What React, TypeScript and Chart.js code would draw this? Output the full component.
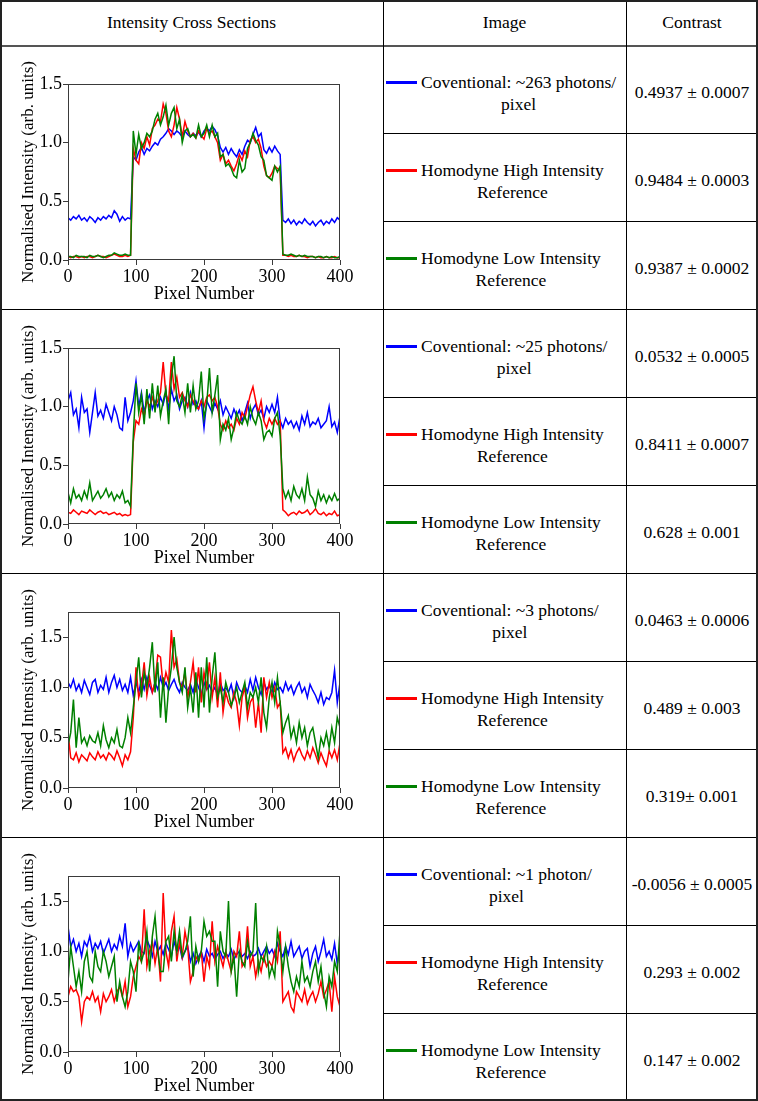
import React, { useEffect, useRef } from "react";
import { Chart, registerables } from "chart.js";

Chart.register(...registerables);

const SERIF = '"Liberation Serif", "Times New Roman", Times, serif';
Chart.defaults.font.family = SERIF;

// ---------- data ----------
const pixelNumbers = [0,4,8,12,16,20,24,28,32,36,40,44,48,52,56,60,64,68,72,76,80,84,88,92,96,100,104,108,112,116,120,124,128,132,136,140,144,148,152,156,160,164,168,172,176,180,184,188,192,196,200,204,208,212,216,220,224,228,232,236,240,244,248,252,256,260,264,268,272,276,280,284,288,292,296,300,304,308,312,316,320,324,328,332,336,340,344,348,352,356,360,364,368,372,376,380,384,388,392,396,400];

const xTickValues = [0, 100, 200, 300, 400];
const yTickValues = [0, 0.5, 1.0, 1.5];
const yMaxValues = [1.5, 1.5, 1.75, 1.75];

const headerLabels = ["Intensity Cross Sections", "Image", "Contrast"];
const xAxisTitle = "Pixel Number";
const yAxisTitle = "Normalised Intensity (arb. units)";

// Row 1: ~263 photons/pixel
const conv263 = [
0.36,0.34,0.37,0.35,0.38,0.34,0.36,0.33,0.37,0.35,0.32,0.36,0.34,0.37,0.35,0.38,0.36,0.42,0.39,0.33,0.37,0.34,0.36,0.35,
0.88,
0.85,0.92,0.96,0.9,0.95,0.93,0.97,1.0,0.98,1.03,
1.05,1.08,1.12,1.1,1.07,1.1,1.08,1.05,1.1,1.07,
1.05,1.08,1.06,1.09,1.05,1.1,1.12,1.1,1.14,1.11,
1.06,0.96,0.92,0.96,0.9,0.95,0.91,0.88,0.94,0.9,
0.97,1.02,1.0,1.07,1.13,1.05,1.08,0.94,0.91,0.96,
0.92,0.97,0.93,0.9,
0.34,0.32,0.35,0.31,0.34,0.3,0.33,0.31,0.35,0.32,0.3,0.33,0.29,0.32,0.34,0.3,0.33,0.31,0.35,0.32,0.36,0.34];
const high263 = [
0.03,0.02,0.03,0.03,0.02,0.03,0.02,0.03,0.03,0.02,0.03,0.04,0.03,0.03,0.02,0.03,0.04,0.05,0.04,0.03,0.03,0.04,0.03,0.04,
0.95,
0.85,0.82,1.0,0.95,1.05,0.98,1.12,1.15,1.2,1.18,
1.33,1.25,1.1,1.05,1.15,1.3,1.2,1.05,1.18,1.1,
1.05,1.08,1.04,1.1,1.06,1.03,1.12,1.08,1.1,1.05,
1.0,0.85,0.9,0.82,0.85,0.8,0.76,0.82,0.9,0.85,
0.93,0.88,1.02,1.05,1.0,1.03,0.95,0.8,0.72,0.7,
0.74,0.8,0.78,0.76,
0.04,0.04,0.03,0.04,0.03,0.03,0.04,0.03,0.03,0.02,0.03,0.03,0.02,0.03,0.02,0.02,0.03,0.02,0.02,0.03,0.02,0.02];
const low263 = [
0.03,0.03,0.02,0.04,0.03,0.03,0.03,0.02,0.04,0.03,0.03,0.04,0.03,0.02,0.03,0.04,0.04,0.06,0.05,0.04,0.04,0.05,0.04,0.04,
1.1,
0.9,1.07,0.95,1.0,1.08,1.05,1.1,1.2,1.25,1.15,
1.22,1.32,1.15,1.25,1.3,1.12,1.2,1.0,1.1,1.12,
1.05,1.07,1.04,1.15,1.05,1.08,1.15,1.05,1.15,1.05,
1.08,0.88,0.9,0.8,0.82,0.78,0.72,0.7,0.85,0.75,
0.78,0.95,1.0,1.08,1.02,0.98,0.88,0.85,0.72,0.7,
0.68,0.8,0.75,0.8,
0.05,0.04,0.04,0.05,0.04,0.03,0.04,0.03,0.04,0.03,0.03,0.03,0.02,0.03,0.03,0.02,0.03,0.02,0.03,0.02,0.02,0.03];

// Row 2: ~25 photons/pixel
const conv25 = [
1.05,1.12,0.93,0.98,0.82,1.08,0.95,0.98,0.78,0.95,1.12,0.92,0.97,0.9,1.02,0.95,0.88,1.0,0.93,0.82,0.8,1.08,0.88,0.95,1.05,
1.22,
1.0,1.12,0.95,1.05,1.1,0.98,1.05,1.0,1.08,
1.02,1.12,0.98,1.15,1.05,1.1,0.98,1.05,1.08,1.0,
1.12,1.02,1.05,0.98,1.05,0.82,1.05,1.0,0.95,1.03,
0.98,1.05,0.93,1.0,0.95,0.9,0.98,0.92,0.97,0.88,
0.95,1.03,0.9,0.98,1.02,0.93,0.97,0.9,1.0,0.95,
1.02,0.95,1.08,0.88,0.82,
0.9,0.85,0.88,0.82,0.87,0.8,0.92,0.85,0.95,0.83,0.87,0.85,0.9,0.82,0.85,0.88,1.0,0.83,0.87,0.78,0.92];
const high25 = [
0.1,0.09,0.12,0.1,0.08,0.11,0.1,0.09,0.12,0.1,0.08,0.1,0.11,0.09,0.1,0.08,0.09,0.1,0.08,0.09,0.07,0.08,0.07,0.08,
0.7,
0.88,
0.85,0.98,0.92,1.05,1.0,1.08,1.0,1.05,1.12,
1.38,1.1,1.05,1.38,1.15,1.25,1.08,1.12,1.05,1.0,
1.1,1.05,1.0,0.98,1.05,1.0,1.08,1.1,1.05,1.08,
1.0,0.85,0.8,0.88,0.82,0.85,0.8,0.9,0.85,0.95,
0.9,1.0,1.1,1.17,1.05,0.95,1.05,0.88,0.82,0.9,
0.85,0.9,0.85,0.88,0.12,
0.1,0.07,0.09,0.1,0.08,0.11,0.09,0.1,0.12,0.08,0.1,0.13,0.09,0.08,0.1,0.07,0.09,0.08,0.11,0.07,0.08];
const low25 = [
0.27,0.18,0.3,0.22,0.25,0.2,0.28,0.22,0.35,0.2,0.24,0.28,0.22,0.25,0.3,0.23,0.27,0.2,0.25,0.22,0.28,0.18,0.2,0.15,
0.75,
1.2,
0.95,1.1,0.85,1.15,0.9,1.2,0.95,1.18,0.92,
1.05,1.15,0.85,1.25,1.43,1.05,1.0,1.1,0.95,1.2,
0.95,1.18,0.98,1.05,1.3,0.9,1.02,1.33,0.95,1.1,
1.27,0.72,0.85,0.8,0.9,0.72,0.82,0.95,0.88,0.85,
0.92,0.85,1.0,0.9,0.85,0.95,0.88,0.72,0.78,0.8,
0.75,0.9,0.95,0.75,0.3,
0.22,0.28,0.2,0.32,0.25,0.22,0.3,0.2,0.4,0.25,0.22,0.15,0.28,0.2,0.25,0.18,0.24,0.2,0.26,0.2,0.22];

// Row 3: ~3 photons/pixel
const conv3 = [
1.05,1.0,1.08,0.97,1.03,0.95,1.07,1.0,0.93,1.05,1.08,0.95,1.02,0.98,1.1,0.95,1.05,1.12,1.0,1.08,0.97,1.03,0.95,1.1,
0.92,
1.05,
0.95,1.08,0.98,1.1,1.02,0.95,1.05,0.98,1.1,
1.0,1.05,0.97,1.03,1.08,1.0,0.95,1.05,1.0,0.97,
1.03,0.95,1.08,1.0,0.93,1.05,0.98,1.02,0.95,1.0,
0.92,1.05,0.97,1.0,0.95,1.03,0.9,1.05,0.98,0.95,
1.02,0.95,1.08,0.97,1.1,1.0,0.93,1.05,0.98,1.02,
0.95,1.05,0.98,1.0,0.95,
1.05,0.97,1.02,0.93,1.0,1.05,0.95,1.0,0.9,1.03,0.97,0.92,0.85,0.95,0.83,0.9,0.88,0.95,1.17,0.85,1.05];
const high3 = [
0.55,0.3,0.28,0.35,0.26,0.33,0.3,0.27,0.35,0.31,0.28,0.36,0.3,0.33,0.28,0.35,0.32,0.28,0.37,0.3,0.22,0.33,0.28,0.36,
0.7,
1.2,
0.9,1.0,1.25,0.92,1.1,0.95,1.05,1.32,1.3,
1.0,1.15,1.05,1.57,1.2,1.28,1.05,1.0,1.15,0.9,
1.05,1.25,0.95,1.2,0.85,1.15,1.0,1.25,0.9,1.1,
0.8,1.15,0.75,0.95,0.85,0.8,0.95,0.85,0.62,0.9,
1.0,0.7,0.85,0.9,0.6,0.85,0.55,1.1,0.9,1.05,
0.9,1.0,0.8,0.85,0.35,
0.4,0.3,0.38,0.27,0.35,0.4,0.33,0.28,0.37,0.3,0.4,0.33,0.25,0.35,0.28,0.22,0.37,0.3,0.38,0.28,0.45];
const low3 = [
0.42,0.55,0.88,0.4,0.7,0.45,0.5,0.42,0.52,0.47,0.45,0.55,0.42,0.62,0.48,0.4,0.5,0.45,0.58,0.42,0.4,0.5,0.7,0.55,
0.8,
1.05,
1.3,0.9,1.15,1.0,1.2,1.45,0.95,1.25,0.7,
1.1,0.65,1.0,1.2,1.5,1.2,1.05,0.95,1.2,0.8,
1.0,0.75,1.15,0.7,1.2,0.8,1.3,0.75,1.1,1.35,
0.9,1.0,0.85,1.05,0.95,0.82,0.9,1.0,0.85,0.95,
1.05,0.8,0.95,0.9,1.0,0.85,1.1,0.75,0.6,0.9,
1.05,0.85,1.1,0.85,0.55,
0.65,0.72,0.5,0.6,0.45,0.65,0.5,0.6,0.42,0.55,0.6,0.45,0.3,0.5,0.42,0.55,0.4,0.6,0.45,0.7,0.6];

// Row 4: ~1 photon/pixel
const conv1 = [
1.25,1.05,1.12,1.0,1.08,0.95,1.1,1.05,1.15,1.0,1.08,1.03,1.1,0.98,1.05,1.12,1.0,1.07,1.02,1.15,1.05,1.28,0.95,1.08,
1.0,
1.05,
1.1,1.0,0.98,1.12,1.05,0.95,1.1,1.0,1.05,
0.97,1.08,1.02,0.95,1.1,1.0,1.05,0.93,1.0,1.05,
0.9,0.98,0.88,0.95,1.0,0.9,1.02,0.95,0.98,0.92,
0.97,1.0,0.93,0.98,0.95,1.02,0.92,0.97,1.0,0.95,
0.98,0.93,1.0,0.95,0.97,1.03,0.95,1.0,1.05,0.98,
1.02,0.95,1.08,1.0,0.95,
1.05,0.97,1.1,0.95,1.0,1.05,0.93,1.0,1.03,0.85,0.98,1.05,0.9,1.0,1.12,0.95,1.0,0.92,1.08,0.88,1.05];
const high1 = [
0.55,0.65,0.6,0.62,0.55,0.3,0.5,0.55,0.52,0.6,0.5,0.55,0.4,0.58,0.5,0.55,0.62,0.5,0.6,0.65,0.55,0.7,0.45,0.55,
0.75,
0.85,
0.95,0.9,1.42,0.85,1.0,1.1,0.88,1.05,0.7,
1.58,1.0,0.85,1.2,1.35,0.9,1.1,0.95,1.2,1.05,
0.7,0.8,0.95,0.9,1.0,0.7,0.95,0.85,1.3,0.9,
1.05,0.95,0.85,1.0,0.9,0.8,1.0,0.95,1.2,0.85,
0.9,1.25,0.85,0.95,0.75,0.9,0.8,0.95,0.85,0.9,
0.85,1.0,0.9,1.2,0.5,
0.55,0.6,0.45,0.4,0.6,0.55,0.5,0.62,0.48,0.55,0.6,0.5,0.58,0.7,0.55,0.62,0.7,0.4,0.75,0.55,0.45];
const low1 = [
0.7,1.05,0.85,0.65,0.8,0.6,0.9,1.0,0.75,0.7,1.0,0.85,0.8,1.0,0.9,0.75,0.85,0.95,0.5,0.7,0.55,0.45,0.6,0.9,
0.8,
0.6,
1.1,0.9,1.0,1.2,0.8,1.15,1.35,1.0,0.8,
0.8,1.1,1.15,0.9,1.2,1.0,1.2,0.95,1.0,1.1,
1.35,0.75,1.05,0.9,1.0,1.3,1.15,1.2,1.1,1.1,
0.65,1.2,1.0,0.95,1.5,0.8,0.95,0.55,1.0,0.9,
0.85,1.1,0.95,1.0,1.48,0.8,0.95,0.9,1.05,0.75,
0.85,0.75,1.2,1.05,0.8,
1.05,0.85,0.7,0.6,0.75,0.65,0.9,0.7,0.75,0.65,0.8,0.9,0.7,0.85,0.6,0.45,0.75,0.65,0.9,0.8,1.2];

const seriesColors = ["#0000ff", "#ff0000", "#008000"];

const conventionalLabels = [
  ["Coventional: ~263 photons/", "pixel"],
  ["Coventional: ~25 photons/", "pixel"],
  ["Coventional: ~3 photons/", "pixel"],
  ["Coventional: ~1 photon/", "pixel"],
];
const highLabel = ["Homodyne High Intensity", "Reference"];
const lowLabel = ["Homodyne Low Intensity", "Reference"];

const contrastConventional = ["0.4937 \u00b1 0.0007", "0.0532 \u00b1 0.0005", "0.0463 \u00b1 0.0006", "-0.0056 \u00b1 0.0005"];
const contrastHigh = ["0.9484 \u00b1 0.0003", "0.8411 \u00b1 0.0007", "0.489 \u00b1 0.003", "0.293 \u00b1 0.002"];
const contrastLow = ["0.9387 \u00b1 0.0002", "0.628 \u00b1 0.001", "0.319\u00b1 0.001", "0.147 \u00b1 0.002"];

const rowSeries = [
  [conv263, high263, low263],
  [conv25, high25, low25],
  [conv3, high3, low3],
  [conv1, high1, low1],
];

// ---------- layout ----------
const W = 758;
const H = 1101;
const HEADER_H = 45;
const ROW_H = 264;
const SUB_H = 88;
const COL1 = 383;
const COL2 = 626;
const CANVAS_W = 382;
const CANVAS_H = 263;
const TEXT_SIZE = 17.5;

const textStyle: React.CSSProperties = {
  fontFamily: SERIF,
  fontSize: TEXT_SIZE,
  color: "#000",
  whiteSpace: "nowrap",
};

const framePlugin = {
  id: "frame",
  afterDraw(chart: any) {
    const { ctx, chartArea } = chart;
    ctx.save();
    ctx.strokeStyle = "#3a3a3a";
    ctx.lineWidth = 1;
    const l = Math.round(chartArea.left) + 0.5;
    const t = Math.round(chartArea.top) + 0.5;
    const r = Math.round(chartArea.right) - 0.5;
    const b = Math.round(chartArea.bottom) - 0.5;
    ctx.strokeRect(l, t, r - l, b - t);
    ctx.restore();
  },
};

function CrossSection({ series, yMax, top }: { series: number[][]; yMax: number; top: number }) {
  const ref = useRef<HTMLCanvasElement>(null);
  useEffect(() => {
    if (!ref.current) return;
    const toXY = (arr: number[]) => arr.map((v, i) => ({ x: pixelNumbers[i], y: v }));
    const orders = [3, 2, 1];
    const chart = new Chart(ref.current, {
      type: "line",
      data: {
        datasets: series.map((s, k) => ({
          data: toXY(s),
          borderColor: seriesColors[k],
          backgroundColor: seriesColors[k],
          borderWidth: 1.5,
          pointRadius: 0,
          tension: 0,
          fill: false,
          order: orders[k],
        })),
      },
      options: {
        animation: false,
        responsive: false,
        devicePixelRatio: 1,
        events: [],
        layout: { padding: { left: 0, right: 43, top: 38, bottom: 0 } },
        plugins: { legend: { display: false }, tooltip: { enabled: false } },
        scales: {
          x: {
            type: "linear",
            min: 0,
            max: 400,
            afterBuildTicks: (scale: any) => {
              scale.ticks = xTickValues.map((v) => ({ value: v }));
            },
            afterFit: (scale: any) => {
              scale.height = 49;
            },
            grid: { drawOnChartArea: false, drawTicks: true, tickLength: 5, color: "#3a3a3a" },
            border: { display: false },
            ticks: {
              font: { family: SERIF, size: 18 },
              color: "#000",
              padding: 1,
              maxRotation: 0,
              callback: (v: any) => String(v),
            },
            title: {
              display: true,
              text: xAxisTitle,
              font: { family: SERIF, size: 18 },
              color: "#000",
              padding: { top: 0, bottom: 4 },
            },
          },
          y: {
            type: "linear",
            min: 0,
            max: yMax,
            afterBuildTicks: (scale: any) => {
              scale.ticks = yTickValues.map((v) => ({ value: v }));
            },
            afterFit: (scale: any) => {
              scale.width = 67;
            },
            grid: { drawOnChartArea: false, drawTicks: true, tickLength: 5, color: "#3a3a3a" },
            border: { display: false },
            ticks: {
              font: { family: SERIF, size: 18 },
              color: "#000",
              padding: 1,
              callback: (v: any) => Number(v).toFixed(1),
            },
            title: {
              display: true,
              text: yAxisTitle,
              font: { family: SERIF, size: 17 },
              color: "#000",
              padding: { top: 17, bottom: 0 },
            },
          },
        },
      },
      plugins: [framePlugin],
    } as any);
    return () => chart.destroy();
  }, []);
  return (
    <canvas
      ref={ref}
      width={CANVAS_W}
      height={CANVAS_H}
      style={{ position: "absolute", left: 1, top: top + 1, width: CANVAS_W, height: CANVAS_H }}
    />
  );
}

function LegendEntry({ color, lines, top }: { color: string; lines: string[]; top: number }) {
  return (
    <div
      style={{
        position: "absolute",
        left: 386,
        top,
        width: COL2 - 386,
        height: SUB_H,
        display: "flex",
        alignItems: "center",
      }}
    >
      <div style={{ display: "flex", alignItems: "flex-start", marginTop: 8 }}>
        <div style={{ width: 31, height: 3, background: color, marginTop: 10, marginRight: 4, flex: "none" }} />
        <div style={{ ...textStyle, textAlign: "center", lineHeight: "22px" }}>
          {lines.map((ln, i) => (
            <div key={i} style={{ ...textStyle, lineHeight: "22px" }}>{ln}</div>
          ))}
        </div>
      </div>
    </div>
  );
}

function ContrastCell({ text, top }: { text: string; top: number }) {
  return (
    <div
      style={{
        ...textStyle,
        position: "absolute",
        left: COL2 + 1,
        top: top + 6,
        width: W - COL2 - 2,
        height: SUB_H - 6,
        display: "flex",
        alignItems: "center",
        justifyContent: "center",
      }}
    >
      {text}
    </div>
  );
}

function HeaderCell({ text, left, width }: { text: string; left: number; width: number }) {
  return (
    <div
      style={{
        ...textStyle,
        position: "absolute",
        left,
        top: 0,
        width,
        height: HEADER_H,
        display: "flex",
        alignItems: "center",
        justifyContent: "center",
      }}
    >
      {text}
    </div>
  );
}

function HLine({ x, y, w, h = 1, color = "#000" }: { x: number; y: number; w: number; h?: number; color?: string }) {
  return <div style={{ position: "absolute", left: x, top: y, width: w, height: h, background: color }} />;
}
function VLine({ x, y, h, w = 1, color = "#000" }: { x: number; y: number; h: number; w?: number; color?: string }) {
  return <div style={{ position: "absolute", left: x, top: y, width: w, height: h, background: color }} />;
}

export default function App() {
  const rowTops = [0, 1, 2, 3].map((r) => HEADER_H + r * ROW_H);
  return (
    <div
      style={{
        position: "absolute",
        left: 0,
        top: 0,
        width: W,
        height: H,
        background: "#fff",
        fontFamily: SERIF,
        color: "#000",
        overflow: "hidden",
      }}
    >
      <HeaderCell text={headerLabels[0]} left={0} width={COL1} />
      <HeaderCell text={headerLabels[1]} left={COL1} width={COL2 - COL1} />
      <HeaderCell text={headerLabels[2]} left={COL2} width={W - COL2} />

      {rowTops.map((top, r) => (
        <React.Fragment key={r}>
          <CrossSection series={rowSeries[r]} yMax={yMaxValues[r]} top={top} />
          <LegendEntry color={seriesColors[0]} lines={conventionalLabels[r]} top={top} />
          <LegendEntry color={seriesColors[1]} lines={highLabel} top={top + SUB_H} />
          <LegendEntry color={seriesColors[2]} lines={lowLabel} top={top + 2 * SUB_H} />
          <ContrastCell text={contrastConventional[r]} top={top} />
          <ContrastCell text={contrastHigh[r]} top={top + SUB_H} />
          <ContrastCell text={contrastLow[r]} top={top + 2 * SUB_H} />
          {r > 0 && <HLine x={0} y={top} w={W} />}
          <HLine x={COL1} y={top + SUB_H} w={W - COL1} />
          <HLine x={COL1} y={top + 2 * SUB_H} w={W - COL1} />
        </React.Fragment>
      ))}

      <HLine x={0} y={HEADER_H} w={W} h={2} color="#555" />
      <VLine x={COL1} y={0} h={H} />
      <VLine x={COL2} y={0} h={H} />
      <HLine x={0} y={0} w={W} h={2} color="#222" />
      <HLine x={0} y={H - 2} w={W} h={2} color="#222" />
      <VLine x={0} y={0} h={H} w={2} color="#222" />
      <VLine x={W - 2} y={0} h={H} w={2} color="#222" />
    </div>
  );
}
